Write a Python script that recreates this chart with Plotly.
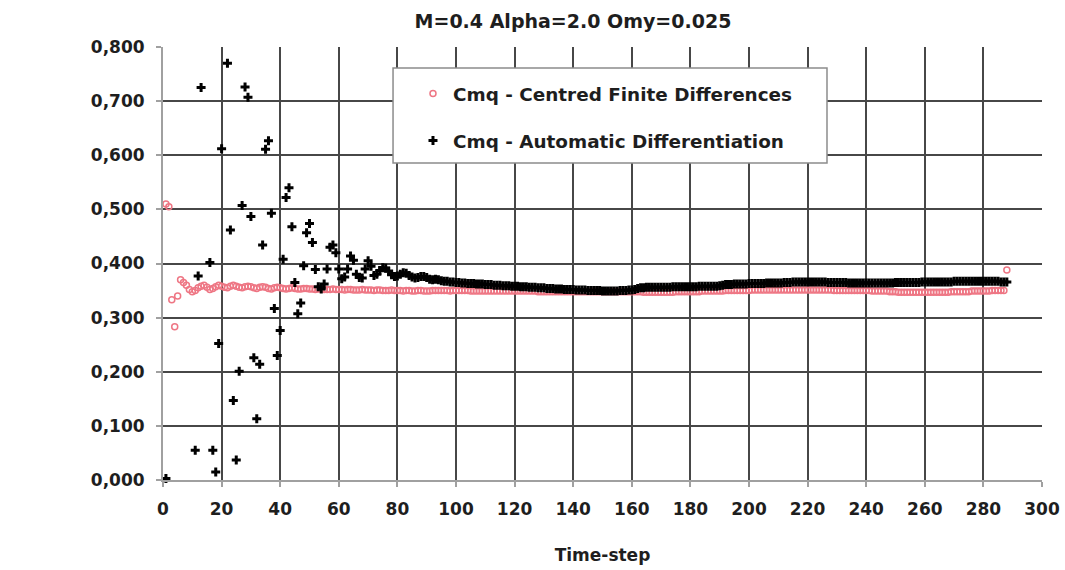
import plotly.graph_objects as go

# Cmq history per time-step, two ways of computing the derivative
# --- Centred finite differences (steps 1..288) ---
fd_steps = list(range(1, 289))
fd_values = [
    0.510, 0.505, 0.333, 0.283, 0.340, 0.370, 0.365, 0.360, 0.352, 0.348,
    0.350, 0.355, 0.358, 0.360, 0.356, 0.352, 0.354, 0.357, 0.360, 0.358,
    0.356, 0.355, 0.358, 0.360, 0.358, 0.356, 0.355, 0.357, 0.358, 0.357,
    0.355, 0.354, 0.356, 0.357, 0.356, 0.354, 0.353, 0.355, 0.356, 0.355,
    0.354, 0.353, 0.354, 0.355, 0.354, 0.353, 0.353, 0.354, 0.354, 0.353,
    0.353, 0.352, 0.353, 0.353, 0.352, 0.352, 0.352, 0.353, 0.352, 0.352,
    0.352, 0.351, 0.352, 0.352, 0.351, 0.351, 0.351, 0.352, 0.351, 0.351,
    0.351, 0.350, 0.351, 0.351, 0.350, 0.350, 0.350, 0.351, 0.350, 0.350,
    0.350, 0.349, 0.350, 0.350, 0.349, 0.349, 0.350, 0.350, 0.349, 0.349,
    0.349, 0.350, 0.350, 0.350, 0.350, 0.350, 0.350, 0.349, 0.350, 0.350,
    0.350, 0.350, 0.350, 0.350, 0.349, 0.349, 0.349, 0.349, 0.349, 0.349,
    0.349, 0.349, 0.349, 0.349, 0.349, 0.349, 0.349, 0.349, 0.349, 0.349,
    0.349, 0.349, 0.349, 0.349, 0.349, 0.349, 0.349, 0.348, 0.348, 0.348,
    0.348, 0.348, 0.348, 0.348, 0.348, 0.348, 0.348, 0.348, 0.348, 0.348,
    0.348, 0.348, 0.348, 0.348, 0.348, 0.348, 0.348, 0.348, 0.348, 0.348,
    0.348, 0.348, 0.348, 0.348, 0.348, 0.348, 0.348, 0.348, 0.348, 0.348,
    0.348, 0.348, 0.348, 0.347, 0.347, 0.347, 0.347, 0.347, 0.347, 0.347,
    0.347, 0.347, 0.347, 0.347, 0.348, 0.348, 0.348, 0.348, 0.348, 0.348,
    0.348, 0.348, 0.348, 0.349, 0.349, 0.349, 0.349, 0.349, 0.349, 0.349,
    0.349, 0.350, 0.350, 0.350, 0.350, 0.350, 0.350, 0.350, 0.350, 0.350,
    0.351, 0.351, 0.351, 0.351, 0.351, 0.351, 0.351, 0.351, 0.351, 0.351,
    0.351, 0.351, 0.351, 0.351, 0.351, 0.351, 0.351, 0.351, 0.351, 0.351,
    0.351, 0.351, 0.351, 0.351, 0.351, 0.351, 0.351, 0.351, 0.350, 0.350,
    0.350, 0.350, 0.350, 0.350, 0.350, 0.350, 0.350, 0.350, 0.350, 0.350,
    0.350, 0.349, 0.349, 0.349, 0.349, 0.349, 0.349, 0.348, 0.348, 0.348,
    0.347, 0.347, 0.347, 0.347, 0.347, 0.347, 0.347, 0.347, 0.347, 0.347,
    0.347, 0.347, 0.347, 0.347, 0.347, 0.347, 0.347, 0.347, 0.348, 0.348,
    0.348, 0.348, 0.348, 0.348, 0.348, 0.349, 0.349, 0.349, 0.349, 0.349,
    0.349, 0.349, 0.350, 0.350, 0.350, 0.350, 0.350, 0.388,
]

# --- Automatic differentiation ---
# transient phase (only the steps that fall inside the 0..0.8 window)
ad_early_steps = [
    1, 11, 12, 13, 16, 17, 18, 19, 20, 22,
    23, 24, 25, 26, 27, 28, 29, 30, 31, 32,
    33, 34, 35, 36, 37, 38, 39, 40, 41, 42,
    43, 44, 45, 46, 47, 48, 49, 50, 51, 52,
    53, 54, 55, 56, 57, 58, 59, 60, 61, 62,
    63, 64, 65, 66, 67, 68, 69, 70, 71, 72,
    73, 74, 75, 76, 77, 78, 79, 80, 81, 82,
    83, 84, 85, 86, 87, 88, 89, 90, 91, 92,
    93, 94, 95, 96, 97, 98, 99, 100,
]
ad_early_values = [
    0.003, 0.055, 0.377, 0.725, 0.402, 0.055, 0.015, 0.252, 0.612, 0.770,
    0.462, 0.147, 0.037, 0.201, 0.507, 0.726, 0.707, 0.487, 0.226, 0.113,
    0.214, 0.434, 0.611, 0.627, 0.493, 0.317, 0.230, 0.276, 0.408, 0.522,
    0.540, 0.468, 0.365, 0.307, 0.327, 0.396, 0.457, 0.474, 0.439, 0.389,
    0.357, 0.353, 0.362, 0.390, 0.430, 0.434, 0.420, 0.390, 0.372, 0.375,
    0.390, 0.414, 0.406, 0.380, 0.374, 0.373, 0.390, 0.405, 0.395, 0.378,
    0.380, 0.387, 0.392, 0.391, 0.386, 0.379, 0.376, 0.377, 0.380, 0.383,
    0.382, 0.378, 0.375, 0.373, 0.374, 0.376, 0.376, 0.374, 0.371, 0.370,
    0.371, 0.370, 0.368, 0.367, 0.367, 0.366, 0.366, 0.365,
]
# converged phase, steps 101..288
ad_late_steps = list(range(101, 289))
ad_late_values = [
    0.365, 0.364, 0.364, 0.363, 0.363, 0.363, 0.362, 0.362, 0.362, 0.361,
    0.361, 0.361, 0.360, 0.360, 0.360, 0.359, 0.359, 0.359, 0.358, 0.358,
    0.358, 0.357, 0.357, 0.357, 0.356, 0.356, 0.356, 0.355, 0.355, 0.355,
    0.354, 0.354, 0.354, 0.353, 0.353, 0.353, 0.352, 0.352, 0.352, 0.352,
    0.351, 0.351, 0.351, 0.351, 0.350, 0.350, 0.350, 0.350, 0.350, 0.349,
    0.349, 0.349, 0.349, 0.349, 0.349, 0.350, 0.350, 0.350, 0.351, 0.351,
    0.352, 0.354, 0.355, 0.355, 0.356, 0.356, 0.356, 0.356, 0.356, 0.356,
    0.356, 0.356, 0.356, 0.357, 0.357, 0.357, 0.357, 0.357, 0.357, 0.357,
    0.357, 0.357, 0.358, 0.358, 0.358, 0.358, 0.358, 0.358, 0.358, 0.359,
    0.360, 0.361, 0.361, 0.361, 0.362, 0.362, 0.362, 0.362, 0.362, 0.363,
    0.363, 0.363, 0.363, 0.363, 0.363, 0.364, 0.364, 0.364, 0.364, 0.364,
    0.364, 0.365, 0.365, 0.365, 0.366, 0.366, 0.366, 0.366, 0.366, 0.366,
    0.366, 0.366, 0.366, 0.366, 0.366, 0.366, 0.365, 0.365, 0.365, 0.365,
    0.365, 0.365, 0.365, 0.364, 0.364, 0.364, 0.364, 0.364, 0.364, 0.364,
    0.364, 0.364, 0.364, 0.364, 0.364, 0.364, 0.364, 0.364, 0.364, 0.365,
    0.365, 0.365, 0.365, 0.365, 0.365, 0.365, 0.365, 0.365, 0.366, 0.366,
    0.366, 0.366, 0.366, 0.366, 0.366, 0.366, 0.366, 0.366, 0.366, 0.367,
    0.367, 0.367, 0.367, 0.367, 0.367, 0.367, 0.367, 0.367, 0.367, 0.367,
    0.367, 0.367, 0.367, 0.367, 0.367, 0.366, 0.366, 0.366,
]
ad_steps = ad_early_steps + ad_late_steps
ad_values = ad_early_values + ad_late_values

x_ticks = list(range(0, 301, 20))
y_ticks = [0.0, 0.1, 0.2, 0.3, 0.4, 0.5, 0.6, 0.7, 0.8]

FONT = "DejaVu Sans"
TXT = "#1e1e1e"
GRID = "#474747"
AXIS = "#a0a0a0"
PINK = "rgb(238,118,132)"

fig = go.Figure()
fig.add_trace(go.Scatter(
    x=fd_steps, y=fd_values, mode="markers",
    name="Cmq - Centred Finite Differences", legendgroup="fd",
    marker=dict(symbol="circle-open", size=6, color=PINK,
                line=dict(width=1.5, color=PINK)),
    cliponaxis=False,
))
fig.add_trace(go.Scatter(
    x=ad_steps, y=ad_values, mode="markers",
    name="Cmq - Automatic Differentiation", legendgroup="ad",
    marker=dict(symbol="cross", size=7.5, color="#000000"),
    cliponaxis=False,
))

# legend frame
fig.add_shape(type="rect", xref="paper", yref="paper",
              x0=0.2617, x1=0.7554, y0=0.7321, y1=0.9515,
              fillcolor="white", line=dict(color="#8c8c8c", width=1.5),
              layer="above")

axis_common = dict(
    showgrid=True, gridcolor=GRID, gridwidth=1.5, zeroline=False,
    showline=True, linecolor=AXIS, linewidth=2, automargin=False,
    ticks="outside", ticklen=5, tickcolor=AXIS, tickwidth=1.5,
    tickfont=dict(family=FONT, size=17, color=TXT, weight="bold"),
)

fig.update_layout(
    width=1065, height=570,
    margin=dict(l=163, r=23, t=47, b=90),
    paper_bgcolor="white", plot_bgcolor="white",
    separators=",.",
    font=dict(family=FONT, color=TXT),
    title=dict(text="M=0.4 Alpha=2.0 Omy=0.025", xref="container", yref="container",
               x=0.538, xanchor="center", y=0.962, yanchor="middle",
               font=dict(family=FONT, size=19, color=TXT, weight="bold")),
    xaxis=dict(range=[0, 300], tickvals=x_ticks, ticklabelstandoff=8,
               title=dict(text="Time-step", standoff=31,
                          font=dict(family=FONT, size=17, color=TXT, weight="bold")),
               **axis_common),
    yaxis=dict(range=[0, 0.8], tickvals=y_ticks, tickformat=".3f",
               ticklabelstandoff=8, **axis_common),
    showlegend=True,
    legend=dict(x=0.2844, y=0.935, xanchor="left", yanchor="top",
                bgcolor="rgba(0,0,0,0)", borderwidth=0,
                traceorder="grouped", tracegroupgap=20, itemwidth=30,
                font=dict(family=FONT, size=18.4, color=TXT, weight="bold")),
)

fig.write_html("out.html")
